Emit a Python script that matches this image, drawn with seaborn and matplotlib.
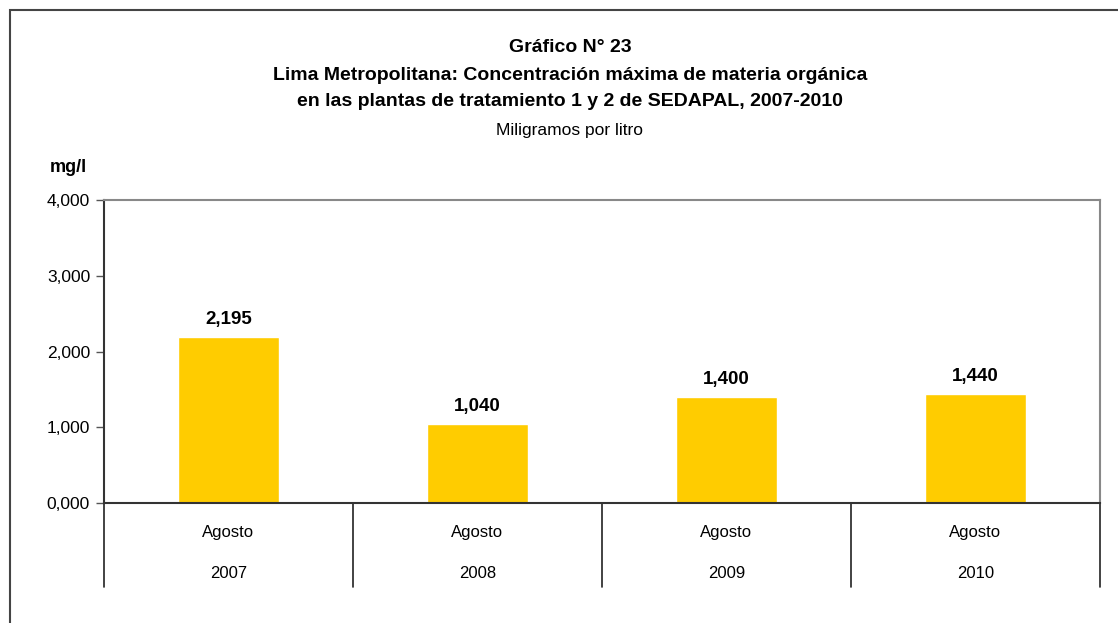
import matplotlib
matplotlib.use("Agg")
import matplotlib.pyplot as plt
import seaborn as sns
from matplotlib.lines import Line2D
from matplotlib.patches import Rectangle
from matplotlib.ticker import FuncFormatter

# -----------------------------
# DATA
# -----------------------------
years = ["2007", "2008", "2009", "2010"]
months = ["Agosto", "Agosto", "Agosto", "Agosto"]
concentration = [2.195, 1.040, 1.400, 1.440]
y_ticks = [0, 1, 2, 3, 4]

sns.set_style("white")
plt.rcParams["font.family"] = ["Liberation Sans Narrow", "Liberation Sans", "DejaVu Sans"]
plt.rcParams["text.color"] = "black"
plt.rcParams["ytick.color"] = "black"


def fmt_comma(v, _=None):
    return f"{v:.3f}".replace(".", ",")


fig = plt.figure(figsize=(11.18, 6.23), dpi=100)
ax = fig.add_axes([104 / 1118, 120 / 623, 996 / 1118, 303 / 623])

sns.barplot(x=years, y=concentration, color="#FFCC00", width=0.405,
            saturation=1, ax=ax)

ax.set_xlim(-0.5, 3.5)
ax.set_ylim(0, 4)
ax.set_yticks(y_ticks)
ax.yaxis.set_major_formatter(FuncFormatter(fmt_comma))
ax.tick_params(axis="y", left=True, length=6, width=1, color="#555555",
               labelsize=12.5, labelcolor="black", pad=4)
ax.set_xticks([])
ax.set_xlabel("")
ax.set_ylabel("")

for side in ["left", "bottom"]:
    ax.spines[side].set_color("#333333")
    ax.spines[side].set_linewidth(1.5)
for side in ["top", "right"]:
    ax.spines[side].set_color("#888888")
    ax.spines[side].set_linewidth(1.5)

# value labels
for i, v in enumerate(concentration):
    ax.text(i, v + 0.12, fmt_comma(v), ha="center", va="bottom",
            fontsize=13.5, fontweight="bold", color="black")

# category table below the axis
trans = ax.get_xaxis_transform()
for xb in [-0.5, 0.5, 1.5, 2.5, 3.5]:
    ax.add_line(Line2D([xb, xb], [0, -0.277], transform=trans,
                       color="#222222", lw=1.2, clip_on=False))
for i, (m, yr) in enumerate(zip(months, years)):
    ax.text(i, -0.099, m, transform=trans, ha="center", va="center", fontsize=12)
    ax.text(i, -0.234, yr, transform=trans, ha="center", va="center", fontsize=12)

# titles
fig.text(570 / 1118, 1 - 47 / 623, "Gráfico N° 23", ha="center", va="center",
         fontsize=14, fontweight="bold")
fig.text(570 / 1118, 1 - 75 / 623,
         "Lima Metropolitana: Concentración máxima de materia orgánica",
         ha="center", va="center", fontsize=14, fontweight="bold")
fig.text(570 / 1118, 1 - 102 / 623,
         "en las plantas de tratamiento 1 y 2 de SEDAPAL, 2007-2010",
         ha="center", va="center", fontsize=14, fontweight="bold")
fig.text(570 / 1118, 1 - 131 / 623, "Miligramos por litro", ha="center",
         va="center", fontsize=12.5)
fig.text(68 / 1118, 1 - 167 / 623, "mg/l", ha="center", va="center",
         fontsize=13, fontweight="bold")

# outer frame (left and top edges visible)
top = 1 - 10 / 623
fig.add_artist(Rectangle((10 / 1118, -0.2), 2, top + 0.2,
                         transform=fig.transFigure, fill=False,
                         edgecolor="#444444", lw=1.5, clip_on=False))

fig.savefig("out.png", dpi=100)
plt.close()
